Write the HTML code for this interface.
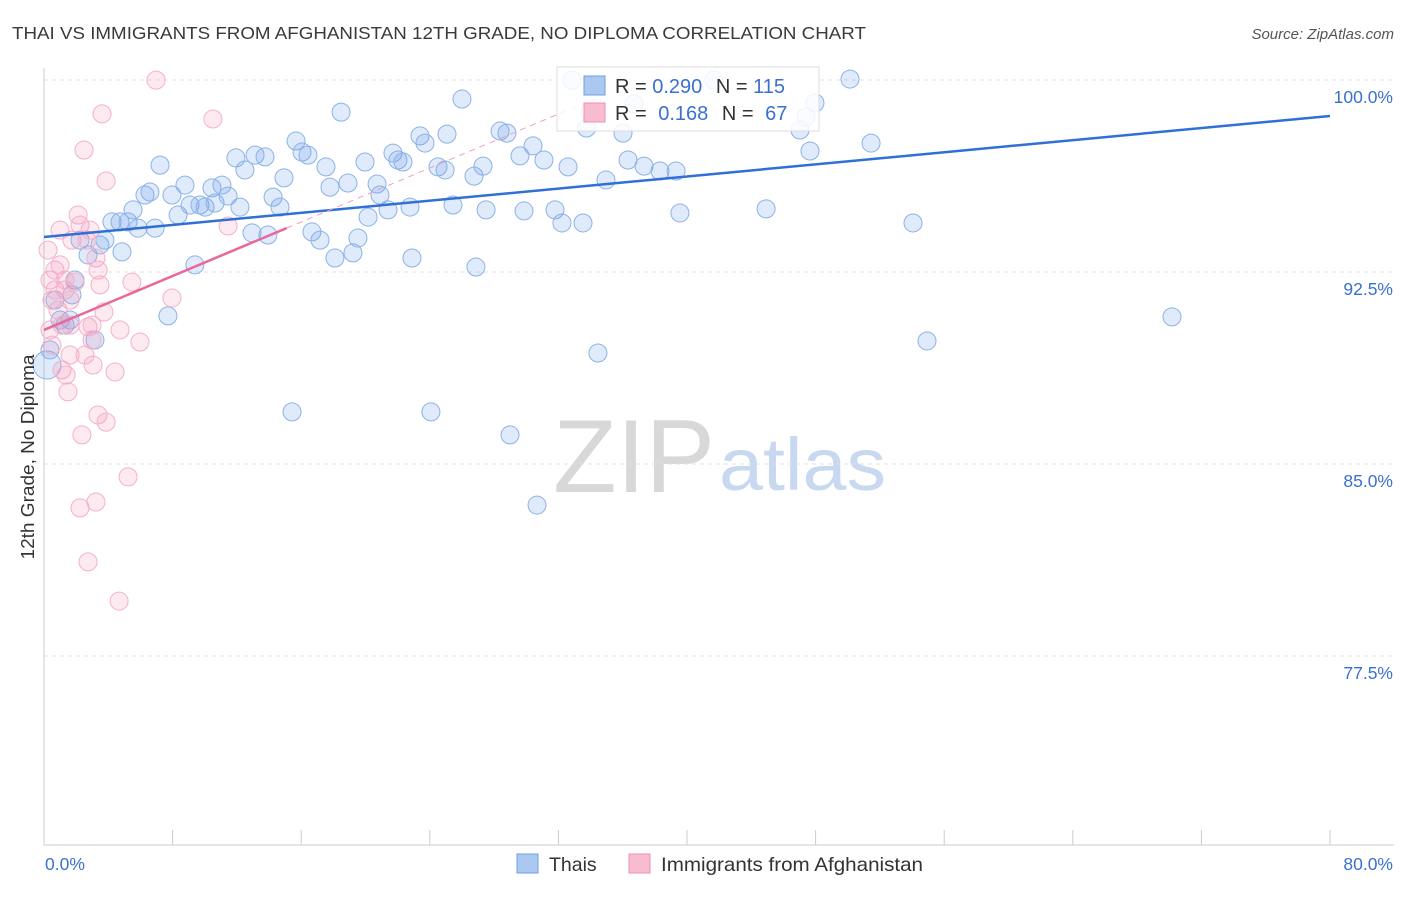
<!DOCTYPE html>
<html><head><meta charset="utf-8"><style>
body{margin:0;background:#fff;font-family:"Liberation Sans",sans-serif}
svg text{font-family:"Liberation Sans",sans-serif}
</style></head><body>
<svg id="chart" width="1406" height="892" viewBox="0 0 1406 892" xmlns="http://www.w3.org/2000/svg">
<text x="12" y="39" font-size="17.5" fill="#3a3a3a" textLength="854" lengthAdjust="spacingAndGlyphs">THAI VS IMMIGRANTS FROM AFGHANISTAN 12TH GRADE, NO DIPLOMA CORRELATION CHART</text>
<text x="1394" y="39" font-size="15" fill="#555" font-style="italic" text-anchor="end">Source: ZipAtlas.com</text>
<g>
<text x="553" y="492" font-size="104" fill="#d8d8d8" font-family="Liberation Serif, serif" textLength="162" lengthAdjust="spacingAndGlyphs">ZIP</text>
<text x="719" y="490" font-size="74" fill="#c8d8f0" textLength="167" lengthAdjust="spacingAndGlyphs">atlas</text>
</g>
<g id="grid"></g>
<g id="axes"></g>
<g id="pts"></g>
<g id="lines"></g>
<text transform="translate(34,457) rotate(-90)" font-size="18" fill="#333" text-anchor="middle" textLength="205" lengthAdjust="spacingAndGlyphs">12th Grade, No Diploma</text>
<g>
<rect x="557" y="67" width="262" height="64" fill="#fff" fill-opacity="0.85" stroke="#ddd"/>
<rect x="584" y="76" width="21" height="19" fill="#aac8f0" stroke="#6f9fe0"/>
<rect x="584" y="103" width="21" height="19" fill="#f8bcd0" stroke="#f08fb0"/>
<text x="615" y="93" font-size="20" fill="#333">R = <tspan fill="#3a70d0">0.290</tspan>  <tspan dx="8">N = </tspan><tspan fill="#3a70d0">115</tspan></text>
<text x="615" y="120" font-size="20" fill="#333">R = <tspan fill="#3a70d0" dx="6">0.168</tspan>  <tspan dx="8">N = </tspan><tspan fill="#3a70d0" dx="6">67</tspan></text>
</g>
<g>
<rect x="517" y="854" width="21" height="19" fill="#aac8f0" stroke="#6f9fe0"/>
<text x="549" y="871" font-size="19.5" fill="#333">Thais</text>
<rect x="629" y="854" width="21" height="19" fill="#f8bcd0" stroke="#f08fb0"/>
<text x="661" y="871" font-size="19.5" fill="#333" textLength="262" lengthAdjust="spacingAndGlyphs">Immigrants from Afghanistan</text>
</g>
</svg>
<script>
const blueX=[0.19,0.37,0.68,1.0,1.31,1.62,1.93,1.74,2.24,2.74,3.17,3.48,3.79,4.23,4.73,4.85,5.23,5.54,5.85,6.28,6.59,6.91,7.22,7.96,8.34,8.77,9.08,9.39,7.71,9.7,10.02,10.45,10.64,11.07,11.45,12.19,11.94,12.5,13.13,13.75,12.94,13.93,14.25,14.68,14.93,15.43,15.68,16.05,16.42,16.67,17.17,17.54,17.79,18.1,18.48,18.91,19.22,19.53,19.97,20.16,20.72,20.9,21.4,21.71,22.02,22.33,22.77,22.89,23.39,23.7,24.07,24.51,24.95,25.07,25.44,26.0,26.75,26.87,27.31,27.5,28.37,28.8,28.99,29.61,29.86,30.42,30.67,31.1,31.79,32.22,32.6,32.85,33.53,33.97,34.46,34.96,36.02,36.33,36.7,37.33,38.32,39.32,39.56,41.68,44.92,47.03,47.4,47.65,47.96,50.14,51.45,54.06,54.93,70.17,33.75];
const blueY=[89.53,90.12,92.07,91.29,91.09,91.29,92.85,92.27,94.41,93.83,90.51,94.22,94.41,95.12,95.12,93.95,95.12,95.59,94.88,96.17,96.29,94.88,97.34,96.17,95.39,96.56,95.78,93.44,91.45,95.78,95.70,96.45,95.86,96.56,96.13,95.70,97.62,97.15,97.73,97.66,94.69,94.61,96.09,95.70,96.84,87.70,98.28,97.85,97.73,94.73,94.41,97.27,96.48,93.71,99.41,96.64,93.91,94.49,97.46,95.31,96.60,96.17,95.59,97.81,97.54,97.46,95.70,93.71,98.48,98.20,87.70,97.27,97.15,98.55,95.78,99.92,96.91,93.36,97.30,95.59,98.67,98.59,86.80,97.70,95.55,98.09,84.06,97.54,95.59,95.08,97.27,100.66,95.08,99.41,90.00,96.76,98.59,97.54,99.73,97.30,97.11,97.11,95.47,100.66,95.63,98.71,99.22,97.89,99.77,100.70,98.20,95.08,90.47,91.41,98.79];
const blueR=[14,9,9,9,9,9,9,9,9,9,9,9,9,9,9,9,9,9,9,9,9,9,9,9,9,9,9,9,9,9,9,9,9,9,9,9,9,9,9,9,9,9,9,9,9,9,9,9,9,9,9,9,9,9,9,9,9,9,9,9,9,9,9,9,9,9,9,9,9,9,9,9,9,9,9,9,9,9,9,9,9,9,9,9,9,9,9,9,9,9,9,9,9,9,9,9,9,9,9,9,9,9,9,9,9,9,9,9,9,9,9,9,9,9,9];
const pinkX=[0.25,0.37,0.5,0.37,0.5,0.68,0.68,0.87,1.0,1.12,1.12,1.31,1.37,1.49,1.62,1.62,1.74,1.93,2.12,2.24,2.36,2.24,2.49,2.67,2.74,2.74,2.86,2.99,3.05,3.23,3.23,3.36,3.36,3.48,3.61,3.86,3.86,3.73,4.42,4.67,4.73,5.23,5.47,5.97,6.97,7.96,10.51,11.45,1.0,1.31,1.62,2.55,2.99];
const pinkY=[94.02,92.85,92.07,90.90,90.31,93.24,92.46,91.68,93.44,91.09,89.34,92.46,89.14,88.48,89.92,92.07,94.41,92.77,95.39,95.00,86.80,83.95,97.93,94.41,91.02,81.84,94.80,90.51,89.53,93.71,84.18,87.58,93.24,92.66,99.34,96.72,87.30,91.60,89.26,80.31,90.90,85.16,92.77,90.43,100.66,92.15,99.14,94.96,94.80,92.85,91.09,89.92,91.09];
const pinkR=10;
const blueTrend=[94.53,99.26];
const pinkTrend=[90.90,94.88];
const pinkSolidEnd=15.1, pinkDashEnd=34.5;
const yTicks=[100,92.5,85,77.5];
const yTickLabels=["100.0%","92.5%","85.0%","77.5%"];
const xTicks=[0,8,16,24,32,40,48,56,64,72,80];
const xLabels=[[0,"0.0%"],[80,"80.0%"]];

const NS="http://www.w3.org/2000/svg";
const X=v=>44+v*16.075;
const Y=v=>97+(100-v)*25.6;
function mk(tag,at,parent){const e=document.createElementNS(NS,tag);for(const k in at)e.setAttribute(k,at[k]);document.getElementById(parent).appendChild(e);return e;}
yTicks.forEach((t,i)=>{
 const l=mk('line',{x1:44,x2:1394,y1:Y(t)-17,y2:Y(t)-17,stroke:'#e2e2e2','stroke-dasharray':'4,4'},'grid');
 
 
 const tx=mk('text',{x:1393,y:Y(t)+6,'font-size':17.5,fill:'#3a70d0','text-anchor':'end'},'grid');
 tx.textContent=yTickLabels[i];
 
 
});
let a=mk('line',{x1:44,x2:44,y1:68,y2:845,stroke:'#ccc'},'axes');


a=mk('line',{x1:44,x2:1394,y1:845,y2:845,stroke:'#ccc'},'axes');


xTicks.forEach(t=>{const l=mk('line',{x1:X(t),x2:X(t),y1:830,y2:845,stroke:'#ccc'},'axes');
 
 });
xLabels.forEach(([v,s],i)=>{const t=mk('text',{x:i?X(v)+63:X(v)+1,y:870,'font-size':17.5,fill:'#3a70d0','text-anchor':i?'end':'start'},'axes');t.textContent=s;
 
 });
blueX.forEach((x,i)=>{const c=mk('circle',{cx:X(x),cy:Y(blueY[i]),r:blueR[i]||9,fill:'rgba(110,160,230,0.22)',stroke:'#8cb2e6','stroke-width':1},'pts');
 
 });
pinkX.forEach((x,i)=>{const c=mk('circle',{cx:X(x),cy:Y(pinkY[i]),r:pinkR-1,fill:'rgba(245,140,180,0.18)',stroke:'#f4b0c8','stroke-width':1},'pts');
 
 });
const pf=v=>pinkTrend[0]+(pinkTrend[1]-pinkTrend[0])*v/pinkSolidEnd;
let ln=mk('line',{x1:X(0),y1:Y(blueTrend[0]),x2:X(80),y2:Y(blueTrend[1]),stroke:'#2f6fd6','stroke-width':2.5},'lines');


ln=mk('line',{x1:X(pinkSolidEnd),y1:Y(pf(pinkSolidEnd)),x2:X(pinkDashEnd),y2:Y(pf(pinkDashEnd)),stroke:'#f0a0bc','stroke-width':1,'stroke-dasharray':'6,5'},'lines');


ln=mk('line',{x1:X(0),y1:Y(pf(0)),x2:X(pinkSolidEnd),y2:Y(pf(pinkSolidEnd)),stroke:'#e8689a','stroke-width':2.5},'lines');


</script>
</body></html>
